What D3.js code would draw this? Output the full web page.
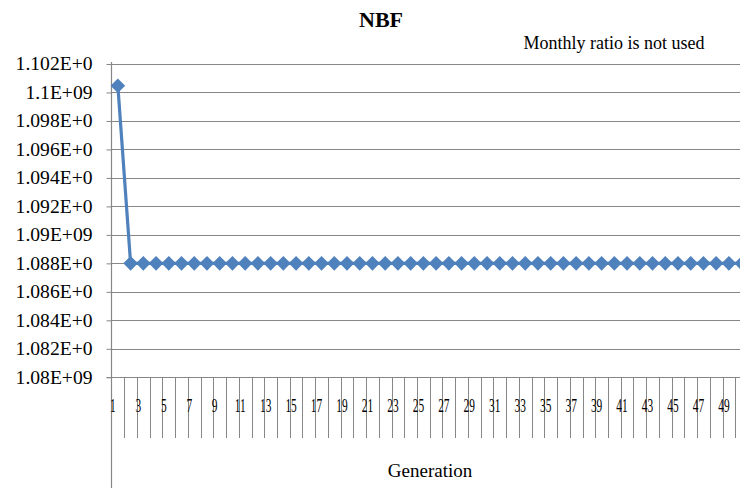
<!DOCTYPE html>
<html><head><meta charset="utf-8">
<script src="https://cdn.jsdelivr.net/npm/d3@7"></script>
<style>
html,body{margin:0;padding:0;background:#fff;}
svg{display:block;}
</style></head>
<body><svg id="c" width="740" height="490"></svg>
<script>
// ---- data ----
const generations = d3.range(1, 51);
const nbfValues = [1.10047e9].concat(d3.range(49).map(() => 1.088e9));
const yTickValues = [1.08e9,1.082e9,1.084e9,1.086e9,1.088e9,1.09e9,1.092e9,1.094e9,1.096e9,1.098e9,1.1e9,1.102e9];
const yTickLabels = ["1.08E+09","1.082E+0","1.084E+0","1.086E+0","1.088E+0","1.09E+09","1.092E+0","1.094E+0","1.096E+0","1.098E+0","1.1E+09","1.102E+0"];
const xTickLabels = generations.filter(g => g % 2 === 1).map(String);
const titleText = "NBF";
const subtitleText = "Monthly ratio is not used";
const xAxisTitle = "Generation";

// ---- layout ----
const FONT = "'Liberation Serif', monospace";
const svg = d3.select("#c");
const plotLeft = 111.5, plotTop = 64, plotBottom = 377.3, step = 12.73;
const gridColor = "#878787";
const lineColor = "#4F81BD";

const x = d3.scaleBand().domain(generations).range([plotLeft, plotLeft + step * generations.length]).padding(0);
const y = d3.scaleLinear().domain([1.08e9, 1.102e9]).range([plotBottom, plotTop]);

// y axis ticks + labels
const yAxis = d3.axisLeft(y).tickValues(yTickValues)
  .tickFormat((d, i) => yTickLabels[i]).tickSize(5).tickPadding(0);
const gy = svg.append("g").attr("transform", `translate(${plotLeft},0)`).call(yAxis)
  .attr("font-family", null).attr("font-size", null);
gy.select(".domain").remove();
gy.selectAll(".tick line").attr("stroke", gridColor);
gy.selectAll(".tick text")
  .style("font-family", FONT).style("font-size", "18.5px").attr("fill", "#000")
  .attr("x", 0)
  .attr("transform", "translate(-19,0) scale(1.06,1)");

// gridlines
svg.append("g").selectAll("line").data(yTickValues.filter(v => v > 1.08e9)).join("line")
  .attr("x1", plotLeft).attr("x2", 740).attr("y1", d => Math.round(y(d)) + 0.5).attr("y2", d => Math.round(y(d)) + 0.5)
  .attr("stroke", gridColor).attr("stroke-width", 1.2);

// x axis line
svg.append("line").attr("x1", plotLeft - 5).attr("x2", 740)
  .attr("y1", Math.round(y(1.08e9)) + 0.5).attr("y2", Math.round(y(1.08e9)) + 0.5)
  .attr("stroke", gridColor).attr("stroke-width", 1.2);
// y axis line
svg.append("line").attr("x1", plotLeft).attr("x2", plotLeft).attr("y1", plotTop - 2).attr("y2", 488)
  .attr("stroke", gridColor).attr("stroke-width", 1.2);

// category boundary ticks
svg.append("g").selectAll("line").data(generations.slice(1)).join("line")
  .attr("x1", d => Math.round(x(d)) + 0.5).attr("x2", d => Math.round(x(d)) + 0.5)
  .attr("y1", plotBottom).attr("y2", 438)
  .attr("stroke", gridColor).attr("stroke-width", 1);

// x tick labels (condensed)
svg.append("g").selectAll("text").data(xTickLabels).join("text")
  .attr("transform", d => `translate(${x(+d) + x.bandwidth() / 2 - 5},412) scale(0.6,1)`)
  .attr("text-anchor", "middle").attr("fill", "#000")
  .style("font-family", FONT).style("font-size", "19px")
  .text(d => d);

// line + markers
const line = d3.line().x((d, i) => x(generations[i]) + x.bandwidth() / 2).y(d => y(d));
svg.append("path").datum(nbfValues).attr("d", line)
  .attr("fill", "none").attr("stroke", lineColor).attr("stroke-width", 3.2).attr("stroke-linejoin", "round");
const r = 7.3;
svg.append("g").selectAll("path").data(nbfValues).join("path")
  .attr("transform", (d, i) => `translate(${x(generations[i]) + x.bandwidth() / 2},${y(d)})`)
  .attr("d", `M0,${-r}L${r},0L0,${r}L${-r},0Z`)
  .attr("fill", lineColor);

// titles
svg.append("text").attr("x", 381).attr("y", 27).attr("text-anchor", "middle")
  .style("font-family", FONT).style("font-size", "22px").style("font-weight", "bold").text(titleText);
svg.append("text").attr("x", 614).attr("y", 49).attr("text-anchor", "middle")
  .style("font-family", FONT).style("font-size", "18px").text(subtitleText);
svg.append("text").attr("x", 430).attr("y", 477).attr("text-anchor", "middle")
  .style("font-family", FONT).style("font-size", "19px").text(xAxisTitle);
</script></body></html>
